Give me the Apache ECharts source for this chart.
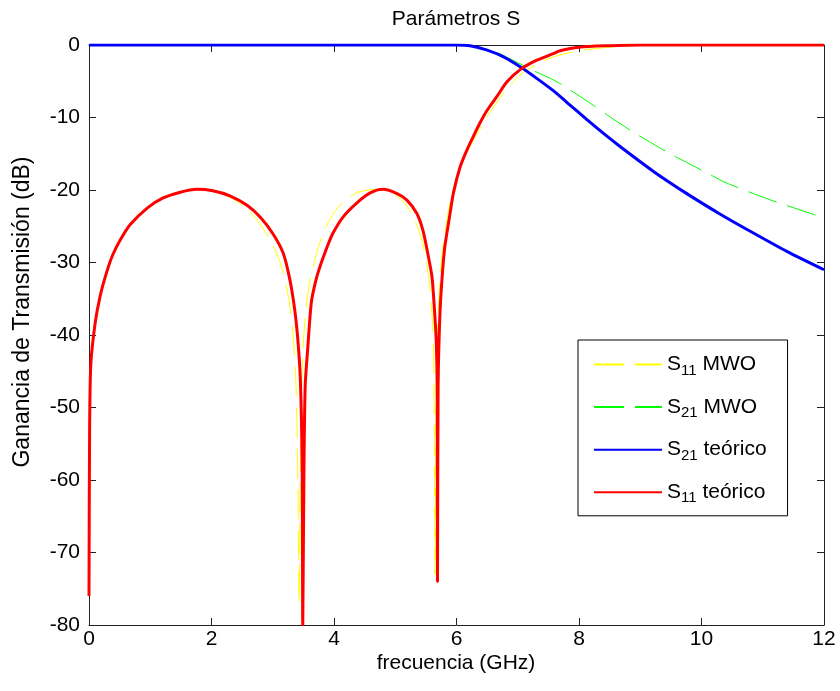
<!DOCTYPE html>
<html>
<head>
<meta charset="utf-8">
<title>Parámetros S</title>
<script src="https://cdn.jsdelivr.net/npm/echarts@6/dist/echarts.min.js"></script>
<style>
  html, body { margin: 0; padding: 0; background: #fff; }
  #chart { width: 840px; height: 691px; }
</style>
</head>
<body>
<div id="chart"></div>
<script>
// ticks
var xTicks = [0, 2, 4, 6, 8, 10, 12];
var yTicks = [-80, -70, -60, -50, -40, -30, -20, -10, 0];

// [frecuencia GHz, dB]
var s11Mwo = [
  [0, -50], [0.05, -41], [0.1, -38], [0.2, -34], [0.3, -31.2], [0.5, -27], [0.7, -24.6],
  [0.95, -22.4], [1.2, -21], [1.5, -20.2], [1.8, -19.9], [2.05, -20.2], [2.3, -21],
  [2.55, -22.4], [2.75, -24.2], [2.95, -26.8], [3.1, -29.5], [3.2, -32.5], [3.28, -36],
  [3.34, -41], [3.38, -47], [3.41, -60], [3.43, -77], [3.45, -60], [3.47, -48], [3.5, -41],
  [3.55, -36], [3.6, -32.8], [3.7, -29.2], [3.8, -26.5], [3.95, -23.8], [4.15, -21.6],
  [4.4, -20.3], [4.7, -19.9], [4.95, -20.3], [5.15, -21.8], [5.3, -23.8], [5.42, -26.5],
  [5.5, -29.5], [5.56, -33], [5.6, -37], [5.63, -44], [5.65, -73], [5.67, -45], [5.7, -37],
  [5.74, -31], [5.8, -26.5], [5.9, -21.5], [6.0, -18.4], [6.1, -16], [6.2, -14.3],
  [6.3, -12.8], [6.45, -10.6], [6.6, -8.6], [6.8, -6.3], [7.04, -4.1], [7.3, -2.7],
  [7.6, -1.6], [8.0, -0.8], [8.5, -0.3], [9.0, -0.05], [9.2, 0], [12, 0]
];
var s21Mwo = [
  [0, 0], [6.0, 0], [6.22, -0.1], [6.5, -0.6], [6.66, -1.0], [6.85, -1.8], [7.04, -2.6],
  [7.3, -3.7], [7.58, -4.8], [7.8, -5.9], [8.23, -8.3], [8.45, -9.6], [8.88, -12.0],
  [9.1, -13.1], [9.53, -15.2], [9.76, -16.2], [10.19, -18.1], [10.4, -19.0],
  [11.07, -21.2], [11.77, -23.2], [12, -23.8]
];
var s21Teorico = [
  [0, 0], [6.0, 0], [6.22, -0.1], [6.5, -0.7], [6.76, -1.6], [7.04, -3.0], [7.31, -4.6],
  [7.58, -6.3], [7.8, -7.9], [8.13, -10.3], [8.4, -12.2], [8.67, -14.0], [9.21, -17.4],
  [9.76, -20.5], [10.3, -23.3], [10.84, -25.9], [11.4, -28.5], [12, -31]
];
var s11Teorico = [
  [0, -76], [0.01, -53], [0.03, -44], [0.1, -38.4], [0.18, -34.7], [0.29, -31.3],
  [0.39, -28.9], [0.51, -26.9], [0.67, -24.8], [0.95, -22.5], [1.21, -21.1], [1.49, -20.3],
  [1.76, -19.9], [2.02, -20.1], [2.3, -20.8], [2.58, -22.1], [2.79, -23.7], [3.0, -26],
  [3.17, -28.7], [3.28, -32.4], [3.36, -36.6], [3.41, -40.7], [3.45, -46], [3.48, -58],
  [3.49, -80], [3.51, -58], [3.53, -47], [3.57, -42], [3.63, -35.5], [3.7, -32.6],
  [3.77, -30.6], [3.89, -27.8], [3.98, -26], [4.15, -23.7], [4.37, -21.8], [4.59, -20.4],
  [4.8, -19.9], [5.03, -20.5], [5.19, -21.4], [5.35, -23.2], [5.45, -25.5], [5.53, -28.7],
  [5.6, -32], [5.64, -36.5], [5.67, -41], [5.685, -47], [5.69, -74], [5.7, -47],
  [5.73, -37], [5.77, -31.5], [5.81, -27.8], [5.89, -23.5], [5.95, -20.4], [6.06, -16.8],
  [6.17, -14.5], [6.27, -12.7], [6.38, -10.8], [6.5, -9.0], [6.66, -7.1], [6.82, -5.1],
  [7.04, -3.4], [7.31, -2.1], [7.58, -1.2], [7.69, -0.8], [8.0, -0.3], [8.5, -0.1],
  [9.0, 0], [12, 0]
];

var FONT = "'Liberation Sans', Arial, sans-serif";
var DASH = [30, 11];

var chart = echarts.init(document.getElementById('chart'));

function axisBase(pos, showLabel) {
  return {
    type: 'value',
    position: pos,
    axisLine: { show: true, onZero: false, lineStyle: { color: '#222', width: 1 } },
    axisTick: { show: true, inside: true, length: 7, lineStyle: { color: '#222' } },
    splitLine: { show: false },
    axisLabel: { show: showLabel, color: '#000', fontSize: 21, fontFamily: FONT }
  };
}

var xBottom = axisBase('bottom', true);
xBottom.min = xTicks[0]; xBottom.max = xTicks[xTicks.length - 1]; xBottom.interval = 2;
xBottom.axisLabel.margin = 4;
var xTop = axisBase('top', false);
xTop.min = xTicks[0]; xTop.max = xTicks[xTicks.length - 1]; xTop.interval = 2;

var yLeft = axisBase('left', true);
yLeft.min = yTicks[0]; yLeft.max = yTicks[yTicks.length - 1]; yLeft.interval = 10;
yLeft.axisLabel.margin = 9;
var yRight = axisBase('right', false);
yRight.min = yTicks[0]; yRight.max = yTicks[yTicks.length - 1]; yRight.interval = 10;

function lineSeries(name, data, color, width, dashed) {
  return {
    name: name,
    type: 'line',
    data: data,
    symbol: 'none',
    smooth: 0.25,
    animation: false,
    lineStyle: { color: color, width: width, type: dashed ? DASH : 'solid' },
    itemStyle: { color: color }
  };
}

function legendItem(name, dashed) {
  return {
    name: name,
    itemStyle: { opacity: 0 },
    lineStyle: { type: dashed ? DASH : 'solid' }
  };
}

chart.setOption({
  backgroundColor: '#fff',
  animation: false,
  grid: { left: 89, right: 16, top: 45, bottom: 66 },
  xAxis: [xBottom, xTop],
  yAxis: [yLeft, yRight],
  legend: {
    orient: 'vertical',
    left: 578,
    top: 340,
    itemWidth: 68,
    itemHeight: 12,
    itemGap: 18.6,
    padding: [14, 21, 10, 15],
    backgroundColor: '#fff',
    borderColor: '#000',
    borderWidth: 1,
    borderRadius: 0,
    itemStyle: { opacity: 0 },
    data: [
      legendItem('S11 MWO', true),
      legendItem('S21 MWO', true),
      legendItem('S21 teórico', false),
      legendItem('S11 teórico', false)
    ],
    formatter: function (name) {
      var m = name.match(/^S(\d+) (.*)$/);
      return '{s|S}{sub|' + m[1] + '}{t| ' + m[2] + '}';
    },
    textStyle: {
      color: '#000',
      fontFamily: FONT,
      fontSize: 21,
      rich: {
        s: { fontSize: 21, fontFamily: FONT, color: '#000' },
        sub: { fontSize: 15, fontFamily: FONT, color: '#000', padding: [12, 0, 0, 0] },
        t: { fontSize: 21, fontFamily: FONT, color: '#000' }
      }
    }
  },
  graphic: [
    {
      type: 'text', x: 456, y: 19,
      style: { text: 'Parámetros S', fill: '#000', font: '21px ' + FONT, textAlign: 'center', textVerticalAlign: 'middle' }
    },
    {
      type: 'text', x: 456, y: 663,
      style: { text: 'frecuencia (GHz)', fill: '#000', font: '21px ' + FONT, textAlign: 'center', textVerticalAlign: 'middle' }
    },
    {
      type: 'text', x: 23, y: 312, rotation: Math.PI / 2,
      style: { text: 'Ganancia de Transmisión (dB)', fill: '#000', font: '23px ' + FONT, textAlign: 'center', textVerticalAlign: 'middle' }
    }
  ],
  series: [
    lineSeries('S11 MWO', s11Mwo, '#ffff00', 1, true),
    lineSeries('S21 MWO', s21Mwo, '#00ff00', 1, true),
    lineSeries('S21 teórico', s21Teorico, '#0000ff', 3, false),
    lineSeries('S11 teórico', s11Teorico, '#ff0000', 3, false)
  ]
});
</script>
</body>
</html>
